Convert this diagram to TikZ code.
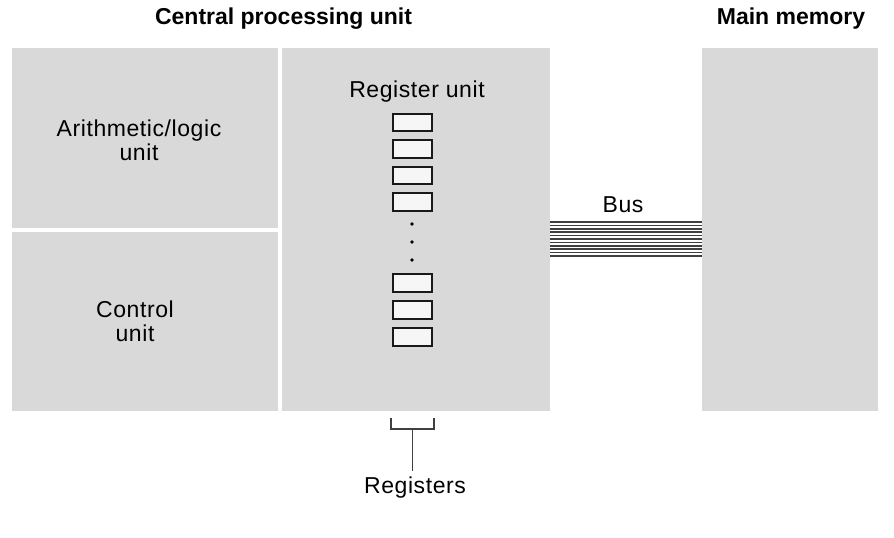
\documentclass[tikz,border=0pt]{standalone}
\usepackage{fontspec}
\setmainfont{Liberation Sans}
\definecolor{boxgray}{RGB}{217,217,217}
\definecolor{cellgray}{RGB}{246,246,246}
\begin{document}
\begin{tikzpicture}[x=1pt,y=-1pt,
		unit/.style={shape=rectangle, fill=boxgray, inner sep=0pt},
		cell/.style={shape=rectangle, draw=black!90, line width=2.2pt, fill=cellgray, minimum width=38.5pt, minimum height=17.5pt, inner sep=0pt},
		label/.style={font=\fontsize{23}{24}\selectfont\addfontfeature{LetterSpace=2.5}, align=center, inner sep=0pt},
		title/.style={font=\fontsize{23}{26}\selectfont\bfseries, inner sep=0pt},
		bus/.style={line width=1.6pt, draw=black!75}]
		\useasboundingbox (0,0) rectangle (894,538);
		\node (alu) at (145,138) [unit, minimum width=266pt, minimum height=180pt] {};
		\node (cu) at (145,321.5) [unit, minimum width=266pt, minimum height=179pt] {};
		\node (regbox) at (416,229.5) [unit, minimum width=268pt, minimum height=363pt] {};
		\node (mem) at (790,229.5) [unit, minimum width=176pt, minimum height=363pt] {};
		\node (cputitle) at (283.5,19) [title] {Central processing unit};
		\node (memtitle) at (791,19) [title] {Main memory};
		\node (alutext) at (139,140) [label] {Arithmetic/logic\\unit};
		\node (cutext) at (135,321) [label] {Control\\unit};
		\node (regtext) at (417,92) [label] {Register unit};
		\foreach \y [count=\i] in {122.5,149,175.5,202,283,310,337}
			\node (reg\i) at (412.5,\y) [cell] {};
		\foreach \y in {224,242,260}
			\fill (412,\y) circle (1.9pt);
		% bus
		\node (bustext) at (623,205) [label] {Bus};
		\foreach \i in {0,...,10}
			\draw[bus] ([yshift={7.5pt-3.4pt*\i}]regbox.east) -- ([yshift={7.5pt-3.4pt*\i}]mem.west);
		% bracket
		\coordinate (bl) at (391,418);
		\coordinate (br) at (434,418);
		\coordinate (bm) at (412.5,429);
		\node (regslabel) at (415,488) [label] {Registers};
		\draw[line width=1.7pt, draw=black!75] (bl) |- (bm) -| (br);
		\draw[line width=1.7pt, draw=black!75] (bm) -- ([yshift=6pt]regslabel.north -| bm);
		\end{tikzpicture}
\end{document}
